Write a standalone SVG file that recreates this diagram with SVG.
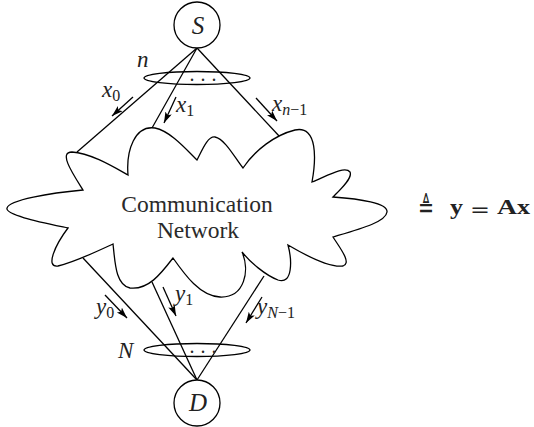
<svg xmlns="http://www.w3.org/2000/svg" width="534" height="427" viewBox="0 0 534 427">
<style>
  .ln { stroke: #000; stroke-width: 1.3; fill: none; }
  .ar { stroke: #000; stroke-width: 1.3; fill: none; marker-end: url(#ah); }
  .nd { stroke: #000; stroke-width: 1.3; fill: #fff; }
  .it { font-family: "Liberation Serif", "DejaVu Serif", serif; font-style: italic; fill: #222; }
  .rm { font-family: "Liberation Serif", "DejaVu Serif", serif; fill: #2a2a2a; }
  .bd { font-family: "Liberation Serif", "DejaVu Serif", serif; font-weight: bold; fill: #222; }
</style>
<defs>
  <marker id="ah" markerUnits="userSpaceOnUse" markerWidth="12" markerHeight="8" refX="11" refY="3.5" orient="auto">
    <path d="M0,0 L11,3.5 L0,7 L2.5,3.5 Z" fill="#000"/>
  </marker>
</defs>
<rect width="534" height="427" fill="#fff"/>

<g id="connectors">
  <line class="ln" x1="197" y1="48" x2="77" y2="152"/>
  <line class="ln" x1="197" y1="48" x2="152" y2="128"/>
  <line class="ln" x1="197" y1="48" x2="280" y2="137"/>
  <line class="ln" x1="197" y1="380" x2="83" y2="258"/>
  <line class="ln" x1="197" y1="380" x2="152" y2="282"/>
  <line class="ln" x1="197" y1="380" x2="264" y2="276"/>
  <line class="ar" x1="133" y1="97" x2="112" y2="116"/>
  <line class="ar" x1="176" y1="97" x2="164" y2="123"/>
  <line class="ar" x1="256" y1="98" x2="277" y2="121"/>
  <line class="ar" x1="105" y1="295" x2="127" y2="318"/>
  <line class="ar" x1="163" y1="287" x2="176" y2="316"/>
  <line class="ar" x1="262" y1="297" x2="246" y2="323"/>
</g>

<g id="network">
  <path class="nd" d="M83,190 C73,174 58,152 72,152 C90,153 112,166 128,175 C126,150 135,125 155,128 C170,131 185,148 197,160 C203,148 208,136 215,137 C225,139 235,158 243,168 C255,150 275,135 295,130 C318,125 316,160 312,182 C325,177 345,165 350,172 C353,178 340,190 333,197 C360,199 388,203 387,212 C386,222 360,229 333,237 C340,248 352,263 343,266 C330,268 305,255 288,245 C292,260 293,285 278,280 C265,275 250,262 242,252 C250,270 245,298 220,297 C200,296 185,275 173,258 C160,275 148,290 130,288 C115,285 115,260 113,244 C100,250 75,262 58,266 C45,268 55,245 68,228 C40,222 5,215 7,208 C9,200 50,193 83,190 Z"/>
  <text class="rm" x="197" y="212" font-size="23.5" text-anchor="middle">Communication</text>
  <text class="rm" x="198" y="238" font-size="23.5" text-anchor="middle">Network</text>
</g>

<g id="source">
  <circle class="nd" cx="197" cy="25" r="23"/>
  <text class="it" x="198" y="34" font-size="25" text-anchor="middle">S</text>
</g>

<g id="destination">
  <circle class="nd" cx="197" cy="403" r="23"/>
  <text class="it" x="198" y="411" font-size="25" text-anchor="middle">D</text>
</g>

<g id="input-group">
  <ellipse class="ln" cx="197" cy="78" rx="53" ry="6.5"/>
  <text class="rm" x="189.5" y="80.5" font-size="20" letter-spacing="6">...</text>
  <text class="it" x="137" y="67" font-size="23">n</text>
</g>

<g id="output-group">
  <ellipse class="ln" cx="197" cy="350" rx="53" ry="6.5"/>
  <text class="rm" x="189.5" y="352.5" font-size="20" letter-spacing="6">...</text>
  <text class="it" x="118" y="358" font-size="23">N</text>
</g>

<g id="labels">
  <text class="it" x="102" y="97" font-size="23">x<tspan font-size="16" dy="4" font-style="normal">0</tspan></text>
  <text class="it" x="176" y="112" font-size="23">x<tspan font-size="16" dy="4" font-style="normal">1</tspan></text>
  <text class="it" x="272" y="111" font-size="23">x<tspan font-size="16" dy="4">n<tspan font-style="normal">−1</tspan></tspan></text>
  <text class="it" x="96" y="314" font-size="23">y<tspan font-size="16" dy="4" font-style="normal">0</tspan></text>
  <text class="it" x="175" y="301" font-size="23">y<tspan font-size="16" dy="4" font-style="normal">1</tspan></text>
  <text class="it" x="257" y="314" font-size="23">y<tspan font-size="16" dy="4">N<tspan font-style="normal">−1</tspan></tspan></text>
</g>

<g id="formula">
  <text x="418" y="217" font-family="DejaVu Sans, sans-serif" font-size="28" fill="#222" textLength="16" lengthAdjust="spacingAndGlyphs">≜</text>
  <text class="bd" x="450" y="214" font-size="20" textLength="13" lengthAdjust="spacingAndGlyphs">y</text>
  <text x="470" y="216" font-family="DejaVu Sans, sans-serif" font-size="19" fill="#222" textLength="20" lengthAdjust="spacingAndGlyphs">=</text>
  <text class="bd" x="497" y="214" font-size="20" textLength="20" lengthAdjust="spacingAndGlyphs">A</text>
  <text class="bd" x="517" y="214" font-size="20" textLength="13" lengthAdjust="spacingAndGlyphs">x</text>
</g>
</svg>
